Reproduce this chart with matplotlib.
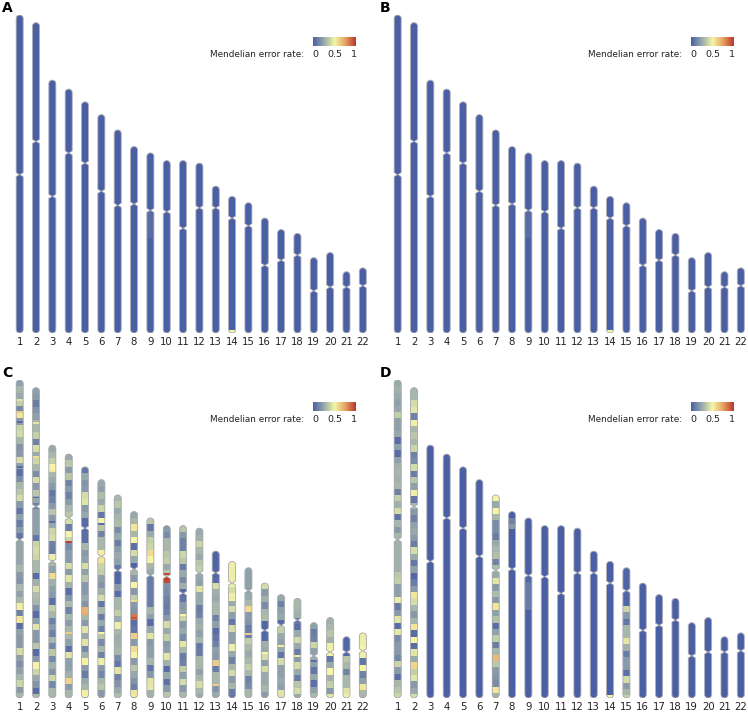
import numpy as np
import matplotlib
matplotlib.use("Agg")
import matplotlib.pyplot as plt
from matplotlib.colors import LinearSegmentedColormap
from matplotlib.patches import Polygon

# chromosome sizes and centromere positions, Mb
chroms = list(range(1, 23))
lengths = [249, 243, 198, 191, 181, 171, 159, 146, 141, 135, 135, 133, 115, 107, 102, 90, 81, 78, 59, 63, 48, 51]
centros = [125, 93, 91, 50, 48, 60, 59, 45, 45, 40, 53, 35, 17, 17, 18, 37, 24, 17, 26, 27, 12, 14]
BIN = 5

# panel C, error rate per 5 Mb bin from the top of each chromosome
c1 = [.22, .3, .25, .38, .14, .55, .2, .4, .42, .3, .18, .2, .43, .22, .06, .16, .3, .35, .42, .2, .08, .22, .1, .2, .08,
      .24, .24, .24, .24, .3, .2, .18, .3, .22, .3, .52, .12, .55, .05, .22, .2, .2, .42, .22, .16, .22, .3, .4, .2, .3]
c2 = [.22, .2, .1, .18, .22, .3, .3, .38, .12, .42, .25, .4, .3, .16, .42, .2, .35, .25, .12,
      .22, .22, .22, .22, .08, .4, .42, .4, .3, .3, .05, .28, .42, .32, .3, .18, .05, .22, .45, .2, .2, .35, .05, .2, .5, .4, .25, .18, .05, .3]
c3 = [.25, .3, .38, .5, .3, .25, .2, .08, .12, .2, .35, .2, .25, .4, .42, .12, .1, .48,
      .3, .22, .58, .28, .22, .2, .06, .38, .3, .12, .2, .12, .3, .14, .36, .14, .28, .18, .4, .14, .3, .3]
c4 = [.25, .35, .2, .35, .12, .2, .12, .2, .3, .35,
      .42, .1, .5, .4, .15, .2, .2, .42, .2, .45, .28, .05, .18, .32, .12, .3, .2, .3, .3, .22, .06, .45, .22, .22, .28, .6, .2, .3, .3]
c5 = [.08, .25, .18, .2, .42, .45, .2, .25, .04, .04,
      .06, .06, .3, .2, .22, .42, .22, .35, .2, .2, .25, .18, .7, .3, .2, .45, .25, .45, .14, .28, .52, .2, .1, .25, .3, .52, .14]
c6 = [.25, .22, .32, .25, .4, .08, .5, .35, .12, .3, .3, .52,
      .55, .4, .38, .22, .18, .28, .42, .08, .3, .1, .25, .12, .35, .15, .3, .12, .48, .2, .14, .3, .35, .2, .3]
c7 = [.3, .35, .25, .3, .32, .15, .25, .1, .2, .25, .22, .08,
      .03, .03, .2, .04, .3, .3, .38, .25, .48, .3, .26, .28, .3, .15, .08, .45, .12, .18, .25, .32]
c8 = [.25, .3, .55, .3, .5, .06, .42, .25, .02,
      .3, .2, .5, .2, .38, .2, .18, .85, .05, .08, .62, .2, .58, .5, .2, .35, .25, .18, .12, .55, .2]
c9 = [.35, .08, .25, .38, .4, .58, .5, .3, .25,
      .1, .1, .1, .1, .1, .3, .22, .05, .25, .45, .2, .22, .22, .3, .08, .2, .45, .46, .28, .3]
c10 = [.2, .15, .3, .3, .35, .38, .25, .35,
       .95, .17, .15, .12, .1, .12, .2, .42, .25, .38, .2, .22, .45, .28, .05, .25, .06, .2, .35, .25]
c11 = [.35, .2, .12, .12, .4, .35, .1, .25, .15, .28, .04,
       .08, .2, .22, .4, .2, .25, .15, .45, .3, .1, .12, .38, .22, .42, .2, .3]
c12 = [.25, .28, .4, .3, .25, .35, .38,
       .25, .22, .45, .25, .25, .1, .12, .25, .28, .22, .3, .08, .1, .3, .3, .22, .3, .42, .3, .25]
c13 = [.02, .02, .02, .02,
       .04, .42, .28, .25, .3, .3, .12, .22, .04, .08, .12, .22, .2, .62, .1, .3, .3, .18, .25]
c14 = [.48, .48, .48, .48,
       .42, .48, .25, .42, .22, .08, .42, .22, .22, .48, .25, .12, .3, .42, .2, .3, .1, .07]
c15 = [.22, .22, .22, .22,
       .25, .3, .58, .2, .18, .1, .1, .38, .3, .25, .3, .38, .3, .12, .15, .3, .3]
c16 = [.42, .2, .28, .15, .3, .32, .03,
       .03, .03, .28, .25, .42, .22, .42, .25, .25, .3, .2, .22]
c17 = [.25, .12, .22, .25, .04,
       .38, .25, .22, .25, .08, .42, .22, .22, .25, .22, .45, .25]
c18 = [.3, .3, .28, .08,
       .05, .25, .42, .25, .1, .2, .42, .25, .1, .35, .42, .25]
c19 = [.22, .1, .12, .4, .22, .25, .22, .08, .25, .06, .22, .3]
c20 = [.28, .3, .35, .28, .48, .5, .08, .25, .5, .28, .38, .2, .45]
c21 = [.02, .02, .03, .35, .3, .12, .3, .3, .45, .48]
c22 = [.48, .48, .5, .48, .08, .5, .12, .22, .55, .3, .22]
c_rates = [c1, c2, c3, c4, c5, c6, c7, c8, c9, c10, c11, c12, c13, c14, c15, c16, c17, c18, c19, c20, c21, c22]

# thin bands of panel C that are narrower than a bin: chromosome, Mb, rate
c_thin_chrom = [1, 1, 1, 1, 2, 2, 2, 3, 3, 4, 4, 5, 6, 6, 7, 8, 8, 9, 10, 10, 11, 13, 14, 15, 16, 17, 18, 19, 20]
c_thin_pos = [16, 25, 33, 68, 28, 54, 86, 20, 60, 69, 140, 115, 35, 120, 100, 83, 70, 80, 38, 42, 70, 105, 30, 52, 55, 40, 45, 30, 40]
c_thin_rate = [.45, .62, .04, .05, .45, .58, .04, .55, .04, .98, .62, .72, .05, .5, .48, .92, .58, .05, .95, .98, .5, .62, .5, .62, .5, .48, .48, .05, .5]

# panel D, chromosomes with bands
d1 = [.25, .28, .25, .22, .25, .38, .22, .22, .25, .05, .22, .04, .22, .28, .3, .28, .3, .12, .38, .28, .42, .07, .3, .2, .3,
      .28, .28, .28, .28, .28, .36, .38, .22, .22, .48, .1, .2, .45, .05, .46, .15, .2, .2, .14, .4, .2, .06, .3, .35, .4]
d2 = [.3, .3, .42, .45, .12, .48, .3, .35, .3, .4, .12, .15, .42, .1, .35, .22, .48, .08, .3,
      .2, .12, .22, .25, .2, .1, .42, .25, .08, .22, .03, .1, .2, .55, .42, .3, .2, .3, .55, .05, .5, .05, .45, .25, .6, .38, .45, .2, .25, .42]
d7 = [.5, .25, .5, .3, .15, .15, .1, .25, .3, .33, .12, .32,
      .25, .45, .2, .32, .2, .55, .22, .33, .05, .22, .38, .1, .3, .68, .36, .2, .18, .15, .55, .28]
d15 = [.02, .02, .02, .02, .02, .02, .4, .2, .08, .3, .3, .45, .28, .1, .2, .2, .06, .42, .2, .3, .38]
d_rates = {1: d1, 2: d2, 7: d7, 15: d15}

# small regions on otherwise blue chromosomes: chromosome, start, end, rate
a_chrom = [9, 14]
a_start = [45, 105]
a_end = [67, 107]
a_rate = [.05, .5]
d_chrom = [8, 8, 9, 9, 14]
d_start = [5, 10, 45, 50, 105]
d_end = [10, 14, 50, 72, 107]
d_rate = [.12, .2, .03, .09, .5]

cmap = LinearSegmentedColormap.from_list(
    "err", [(0, "#4a5fa6"), (.25, "#97a9ab"), (.38, "#c3cfa6"), (.5, "#f6f6a8"), (.75, "#e6a262"), (1, "#b5352d")])

W, H = 748, 713
fig = plt.figure(figsize=(W / 100, H / 100), dpi=100)
plt.rcParams["font.family"] = "DejaVu Sans"


def outline(x, length, centro, hw=0.215, rx=2.7):
    # chromosome shape with round ends and a pinch at the centromere
    t = np.linspace(0, np.pi, 14)
    top_pts = [(x - hw * np.cos(a), length - rx + rx * np.sin(a)) for a in t]
    cy = length - centro
    right_side = [(x + hw, cy + 1.6), (x + .02, cy), (x + hw, cy - 1.6)]
    bot = [(x + hw * np.cos(a), rx - rx * np.sin(a)) for a in t]
    left_side = [(x - hw, cy - 1.6), (x - .02, cy), (x - hw, cy + 1.6)]
    return top_pts + right_side + bot + left_side


def panel(left_px, bottom_px, letter, binned=None, reg=None, thin=None):
    step = 16.34
    ax = fig.add_axes([left_px / W, 1 - bottom_px / H, 22 * step / W, 318 / H])
    ax.set_xlim(0.5, 22.5)
    ax.set_ylim(0, 249)
    for s in ax.spines.values():
        s.set_visible(False)
    ax.set_yticks([])
    ax.set_xticks(chroms)
    ax.tick_params(axis="x", length=0, pad=3, labelsize=7.3, colors="#222222")
    ax.patch.set_alpha(0)

    for i, c in enumerate(chroms):
        ln, ce = lengths[i], centros[i]
        poly = Polygon(outline(c, ln, ce), closed=True, fc=cmap(0.0), ec="none", zorder=1)
        ax.add_patch(poly)
        bars = []
        rates = binned.get(c) if binned else None
        if rates:
            for j, r in enumerate(rates):
                y1 = ln - BIN * j
                y0 = max(y1 - BIN, 0)
                bars += ax.bar(c, y1 - y0, bottom=y0, width=.5, color=cmap(r), lw=0, zorder=2).patches
        if reg:
            for rc, st, en, r in zip(*reg):
                if rc == c:
                    bars += ax.bar(c, en - st, bottom=ln - en, width=.5, color=cmap(r), lw=0, zorder=3).patches
        if thin:
            for tc, p, r in zip(*thin):
                if tc == c:
                    bars += ax.bar(c, 1.5, bottom=ln - p - .75, width=.5, color=cmap(r), lw=0, zorder=3).patches
        for b in bars:
            b.set_clip_path(poly)
        ax.add_patch(Polygon(outline(c, ln, ce), closed=True, fc="none", ec="#b0b0b0", lw=0.6, zorder=4))

    fig.text((left_px - 9.5) / W, 1 - (bottom_px - 325) / H, letter, fontsize=10, fontweight="bold",
             va="center", ha="left", color="black")

    # colour key
    off_x = left_px - 11.5
    off_y = bottom_px - 333
    cb = fig.add_axes([(313 + off_x) / W, 1 - (46 + off_y) / H, 43 / W, 9 / H])
    cb.imshow(np.linspace(0, 1, 256)[None, :], cmap=cmap, aspect="auto", extent=(-.05, 1.05, 0, 1))
    for s in cb.spines.values():
        s.set_visible(False)
    cb.set_yticks([])
    cb.set_xticks([0, .5, 1])
    cb.set_xticklabels(["0", "0.5", "1"])
    cb.tick_params(axis="x", length=0, pad=3, labelsize=6.8, colors="#222222")
    fig.text((304 + off_x) / W, 1 - (54.5 + off_y) / H, "Mendelian error rate:", fontsize=6.4, ha="right",
             va="center", color="#222222")


c_binned = {c: r for c, r in zip(chroms, c_rates)}
panel(11.5, 333, "A", reg=(a_chrom, a_start, a_end, a_rate))
panel(389.5, 333, "B", reg=(a_chrom, a_start, a_end, a_rate))
panel(11.5, 698, "C", binned=c_binned, thin=(c_thin_chrom, c_thin_pos, c_thin_rate))
panel(389.5, 698, "D", binned=d_rates, reg=(d_chrom, d_start, d_end, d_rate))

fig.savefig("out.png", dpi=100)
